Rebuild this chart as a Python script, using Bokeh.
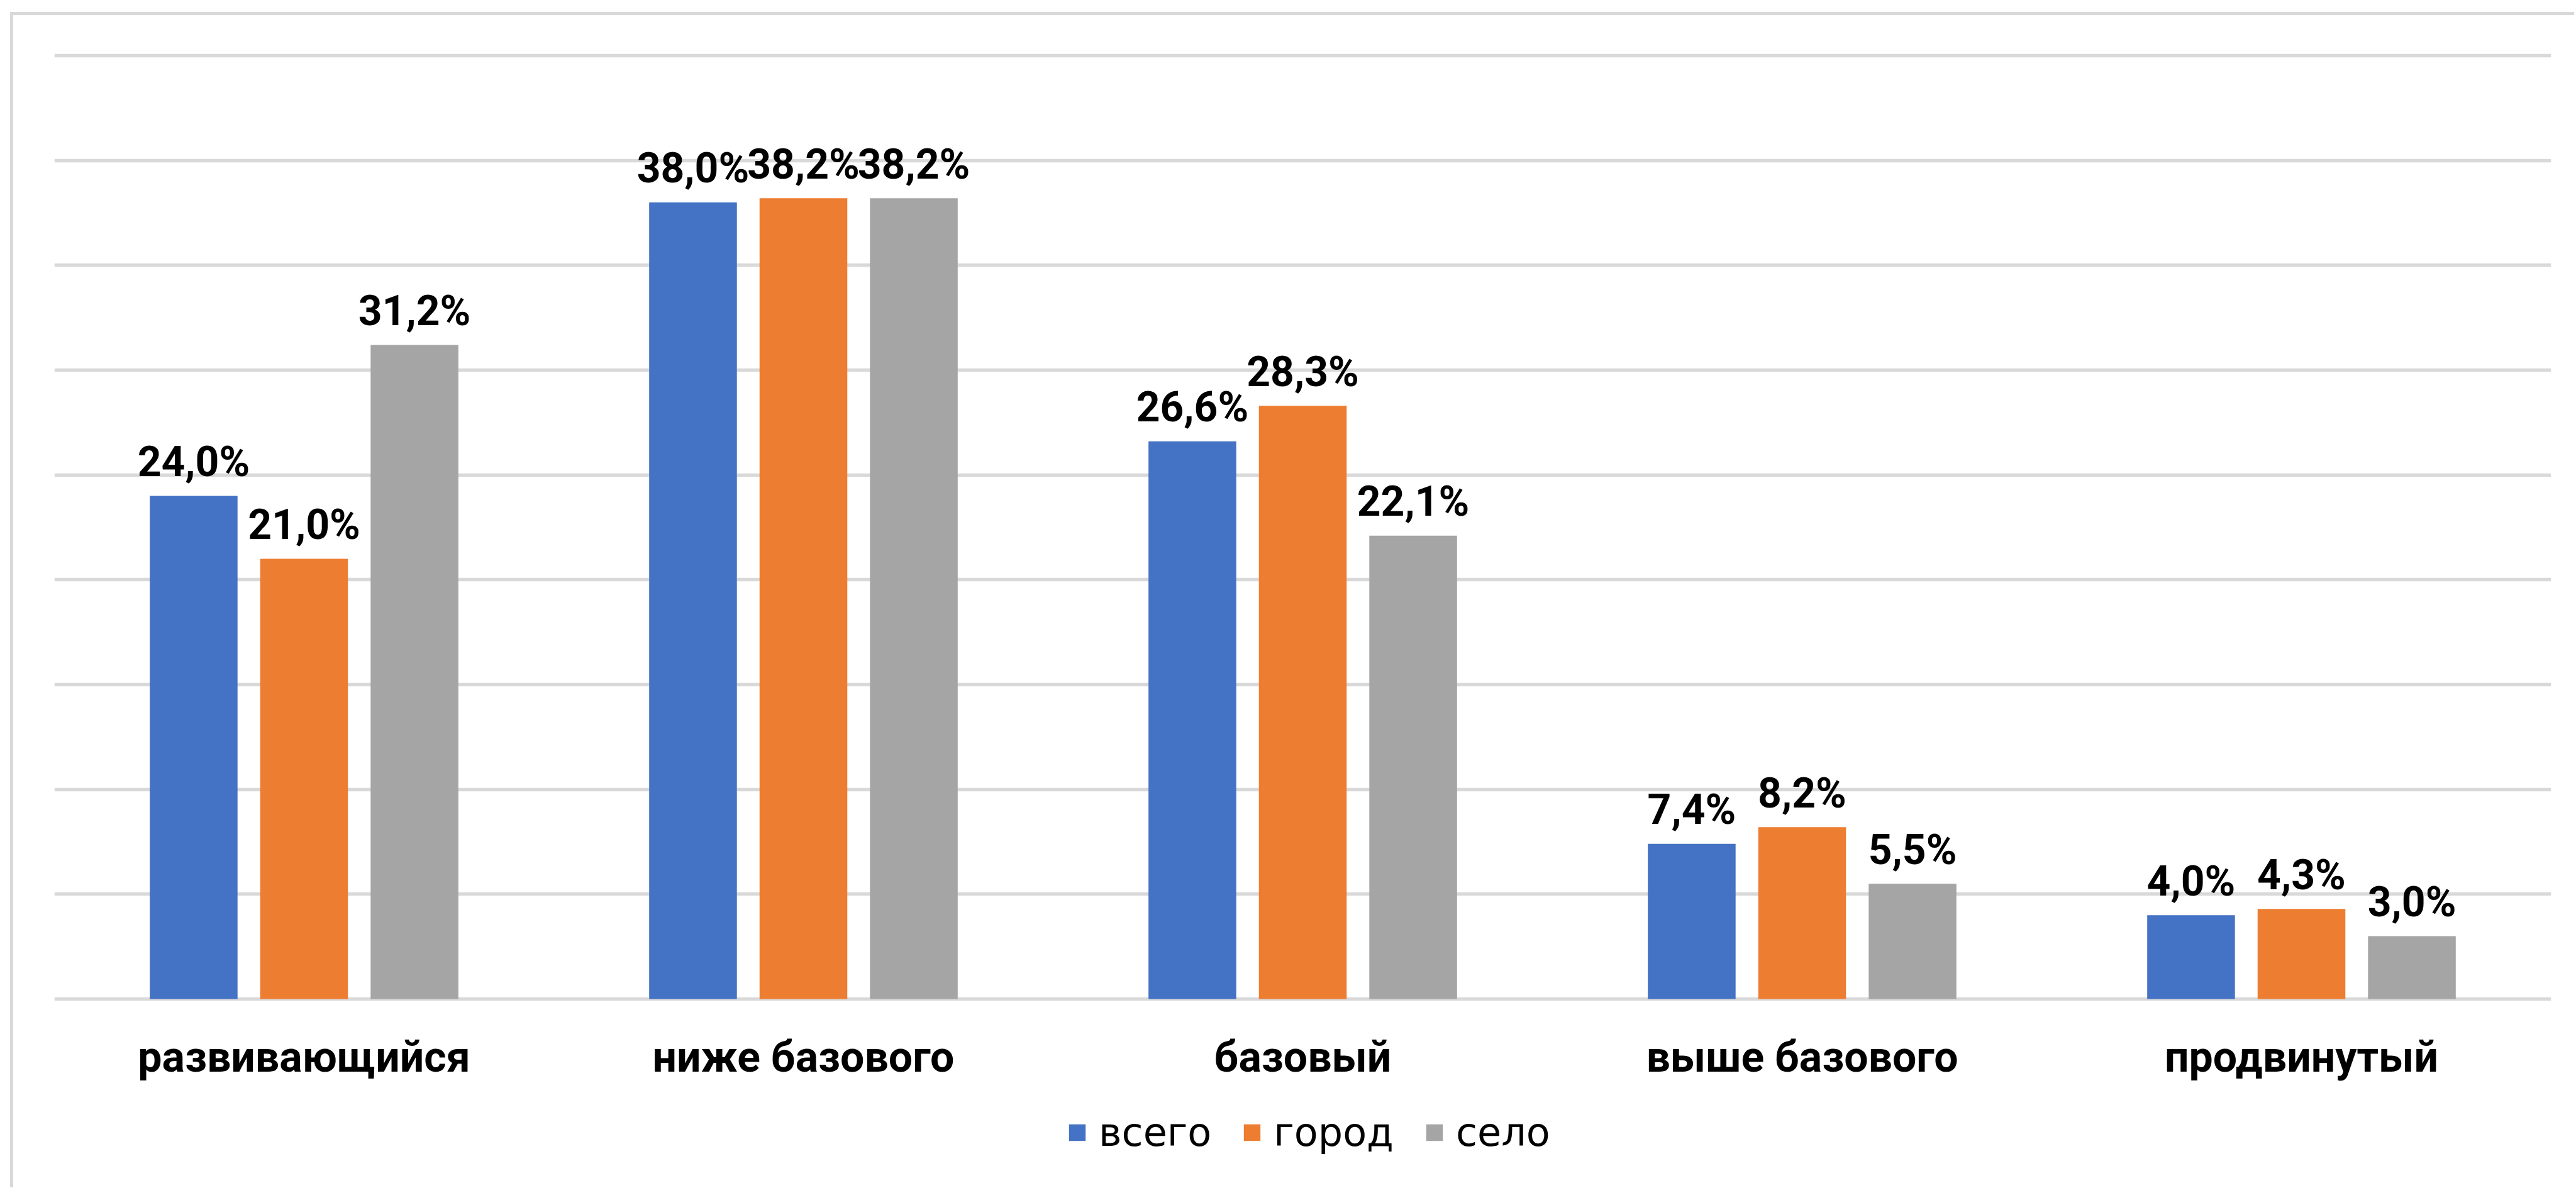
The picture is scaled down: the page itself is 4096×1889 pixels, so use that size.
from bokeh.plotting import figure
from bokeh.models import (FactorRange, Range1d, ColumnDataSource, FixedTicker,
                          Legend, LegendItem)
from bokeh.transform import dodge
from bokeh.core.properties import value
from bokeh.embed import file_html
from bokeh.resources import INLINE

# ---- data ----
categories = ["развивающийся", "ниже базового", "базовый", "выше базового", "продвинутый"]
series_names = ["всего", "город", "село"]
vsego = [24.0, 38.0, 26.6, 7.4, 4.0]
gorod = [21.0, 38.2, 28.3, 8.2, 4.3]
selo = [31.2, 38.2, 22.1, 5.5, 3.0]
y_ticks = [0, 5, 10, 15, 20, 25, 30, 35, 40, 45]

colors = ["#4472C4", "#ED7D31", "#A5A5A5"]

def fmt(v):
    return f"{v:.1f}%".replace(".", ",")

src = ColumnDataSource(data=dict(
    cat=categories,
    zero=[0] * len(categories),
    vsego=vsego, gorod=gorod, selo=selo,
    vsego_lbl=[fmt(v) for v in vsego],
    gorod_lbl=[fmt(v) for v in gorod],
    selo_lbl=[fmt(v) for v in selo],
))

W, H = 4093, 1888
# frame: 0% at y=1588 px, 45% at y=88 px (33.33 px per %), extended below for labels/legend
p = figure(width=W, height=H, x_range=FactorRange(*categories, range_padding=0),
           y_range=Range1d(-8.70, 45.15), output_backend="svg", toolbar_location=None,
           x_axis_location=None, y_axis_location=None, title=None,
           min_border_left=86, min_border_right=37, min_border_top=83, min_border_bottom=10)
p.outline_line_color = None
p.background_fill_color = "white"
p.border_fill_alpha = 0
p.styles = {
    "background-color": "white",
    "background-image": "linear-gradient(#D9D9D9, #D9D9D9), linear-gradient(#D9D9D9, #D9D9D9)",
    "background-size": "5px 100%, 100% 5px",
    "background-position": "16px 19px, 16px 19px",
    "background-repeat": "no-repeat",
}

# grid
p.xgrid.grid_line_color = None
p.ygrid.ticker = FixedTicker(ticks=y_ticks)
p.ygrid.grid_line_color = "#D9D9D9"
p.ygrid.grid_line_width = 5.4

bw = 0.1757
off = 0.2211
offsets = [-off, 0.0, off]
fields = ["vsego", "gorod", "selo"]
renderers = []
for f, o, c in zip(fields, offsets, colors):
    r = p.vbar(x=dodge("cat", o, range=p.x_range), top=f, bottom=0, width=bw,
               source=src, fill_color=c, line_color=None)
    renderers.append(r)
    p.text(x=dodge("cat", o, range=p.x_range), y=f, text=f + "_lbl", source=src,
           text_align="center", text_baseline="alphabetic", y_offset=-54,
           text_font=value("Roboto"), text_font_style="bold",
           text_font_size="66px", text_color="black")

# category labels under the baseline
p.text(x="cat", y="zero", text="cat", source=src,
       text_align="center", text_baseline="alphabetic", y_offset=92,
       text_font=value("Roboto"), text_font_style="bold",
       text_font_size="68px", text_color="black")

legend = Legend(items=[LegendItem(label=n, renderers=[r]) for n, r in zip(series_names, renderers)],
                orientation="horizontal", location=(1610, 41),
                glyph_width=33, glyph_height=33, label_standoff=18, spacing=48,
                label_text_font="DejaVu Sans", label_text_font_size="62px",
                label_text_color="black",
                border_line_color=None, background_fill_alpha=0, padding=0, margin=0)
p.add_layout(legend, "center")

open("out.html", "w").write(file_html(p, INLINE))
